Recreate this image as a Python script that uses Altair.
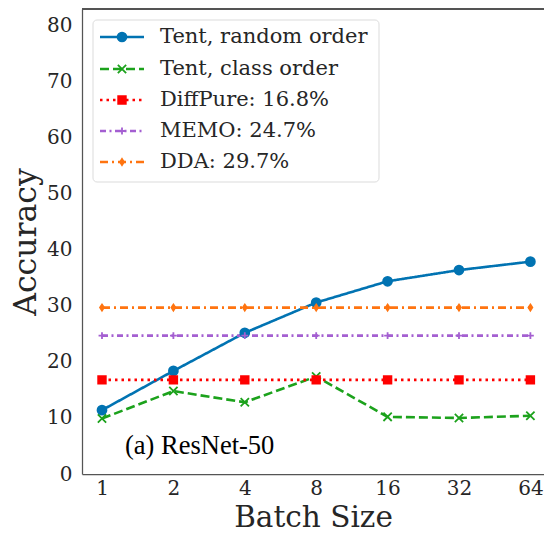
import altair as alt
import pandas as pd

# ---------------- data ----------------
batch_labels = ["1", "2", "4", "8", "16", "32", "64"]
series_names = ["Tent, random order", "Tent, class order",
                "DiffPure: 16.8%", "MEMO: 24.7%", "DDA: 29.7%"]
tent_random = [11.4, 18.4, 25.2, 30.6, 34.4, 36.4, 37.9]
tent_class = [9.9, 14.8, 12.8, 17.4, 10.2, 10.0, 10.4]
diffpure = [16.8, 16.8, 16.8, 16.8, 16.8, 16.8, 16.8]
memo = [24.7, 24.7, 24.7, 24.7, 24.7, 24.7, 24.7]
dda = [29.7, 29.7, 29.7, 29.7, 29.7, 29.7, 29.7]
y_ticks = [0, 10, 20, 30, 40, 50, 60, 70, 80]
panel_label = "(a) ResNet-50"

# ---------------- styles ----------------
colors = ["#0173B2", "#1CA21C", "#FF0000", "#A45FD1", "#FF7410"]
dashes = [[1, 0], [9, 4], [2.5, 4], [6, 3.5, 2, 3.5], [8, 4, 2, 4]]
shapes = ["circle",
          "M-1,-1L1,1M-1,1L1,-1",
          "square",
          "M-1,0L1,0M0,-1L0,1",
          "M0,-1L0.65,0L0,1L-0.65,0Z"]
sizes = [80, 36, 40, 70, 60]

TOP = 9          # page y of plot top
LEFT = 82        # page x of plot left
W, H = 462, 465
STEP = 71.4
X_DOM = [-0.28, -0.28 + W / STEP]
Y_DOM = [0, 83]
FONT = "DejaVu Serif"
TXT = "#262626"
SPINE = "#555555"

# pixel -> data helpers (for legend / annotation layout only)
def px_x(px):
    return X_DOM[0] + (px - LEFT) / W * (X_DOM[1] - X_DOM[0])

def px_y(py):
    return Y_DOM[1] - (py - TOP) / H * (Y_DOM[1] - Y_DOM[0])

rows = []
for name, vals in zip(series_names, [tent_random, tent_class, diffpure, memo, dda]):
    for i, v in enumerate(vals):
        rows.append({"idx": i, "acc": v, "series": name})
df = pd.DataFrame(rows)

label_expr = "[" + ",".join("'%s'" % b for b in batch_labels) + "][datum.value]"

x_scale = alt.Scale(domain=X_DOM, nice=False, zero=False)
y_scale = alt.Scale(domain=Y_DOM, nice=False, zero=False)
x_axis = alt.Axis(values=list(range(len(batch_labels))), labelExpr=label_expr,
                  ticks=False, grid=False, title="Batch Size", labelPadding=4,
                  labelFontSize=20, titleFontSize=29.5, titlePadding=28,
                  titleBaseline="alphabetic")
y_axis = alt.Axis(values=y_ticks, ticks=False, grid=False, title="Accuracy",
                  labelPadding=10, labelFontSize=20, titleFontSize=31.5,
                  titlePadding=4)

def X(field):
    return alt.X(field + ":Q", scale=x_scale, axis=x_axis)

def Y(field):
    return alt.Y(field + ":Q", scale=y_scale, axis=y_axis)

color_enc = alt.Color("series:N", scale=alt.Scale(domain=series_names, range=colors), legend=None)
stroke_enc = alt.Stroke("series:N", scale=alt.Scale(domain=series_names, range=colors), legend=None)
dash_enc = alt.StrokeDash("series:N", scale=alt.Scale(domain=series_names, range=dashes), legend=None)
shape_enc = alt.Shape("series:N", scale=alt.Scale(domain=series_names, range=shapes), legend=None)
size_enc = alt.Size("series:O", scale=alt.Scale(domain=series_names, range=sizes), legend=None)

lines = alt.Chart(df).mark_line(strokeWidth=2.6).encode(
    x=X("idx"), y=Y("acc"), color=color_enc, strokeDash=dash_enc)
points = alt.Chart(df).mark_point(filled=True, strokeWidth=1.8, opacity=1).encode(
    x=X("idx"), y=Y("acc"), color=color_enc, stroke=stroke_enc,
    shape=shape_enc, size=size_enc)

# top spine
top_spine = alt.Chart(df).mark_rule(color=SPINE, strokeWidth=1.25).encode(
    y=alt.datum(Y_DOM[1]))

# legend (custom, drawn with the same scales)
row_py = [37, 69, 100, 131, 162]
leg_lines = []
leg_pts = []
leg_txt = []
for name, py in zip(series_names, row_py):
    leg_lines.append({"lx": px_x(100), "ly": px_y(py), "series": name})
    leg_lines.append({"lx": px_x(144), "ly": px_y(py), "series": name})
    leg_pts.append({"lx": px_x(122), "ly": px_y(py), "series": name})
    leg_txt.append({"lx": px_x(160), "ly": px_y(py), "series": name})
box = pd.DataFrame([{"bx": px_x(93), "bx2": px_x(379), "by": px_y(20), "by2": px_y(182)}])

leg_box = alt.Chart(box).mark_rect(fill="white", stroke="#D9D9D9", strokeWidth=1,
                                   cornerRadius=4, opacity=0.9).encode(
    x=X("bx"), x2="bx2", y=Y("by"), y2="by2")
leg_l = alt.Chart(pd.DataFrame(leg_lines)).mark_line(strokeWidth=2.6).encode(
    x=X("lx"), y=Y("ly"), color=color_enc, strokeDash=dash_enc, detail="series:N")
leg_p = alt.Chart(pd.DataFrame(leg_pts)).mark_point(filled=True, strokeWidth=1.8, opacity=1).encode(
    x=X("lx"), y=Y("ly"), color=color_enc, stroke=stroke_enc, shape=shape_enc, size=size_enc)
leg_t = alt.Chart(pd.DataFrame(leg_txt)).mark_text(
    align="left", baseline="middle", font=FONT, fontSize=21, color=TXT).encode(
    x=X("lx"), y=Y("ly"), text="series:N")

ann = alt.Chart(pd.DataFrame([{"ax": px_x(125), "ay": px_y(446), "t": panel_label}])).mark_text(
    align="left", baseline="middle", font="Liberation Serif", fontSize=26.5, color="black").encode(
    x=X("ax"), y=Y("ay"), text="t:N")

chart = alt.layer(lines, points, top_spine, leg_box, leg_l, leg_p, leg_t, ann).properties(
    width=W, height=H,
    padding={"left": LEFT - 8, "top": TOP - 8, "right": 0, "bottom": 524 - (TOP - 8) - H},
    autosize=alt.AutoSizeParams(type="none"),
).configure_view(stroke=None).configure_axis(
    domainColor=SPINE, domainWidth=1.25, labelFont=FONT, titleFont=FONT,
    labelColor=TXT, titleColor=TXT, titleFontWeight="normal")

chart.save("out.html", embed_options={"renderer": "svg", "actions": False})
